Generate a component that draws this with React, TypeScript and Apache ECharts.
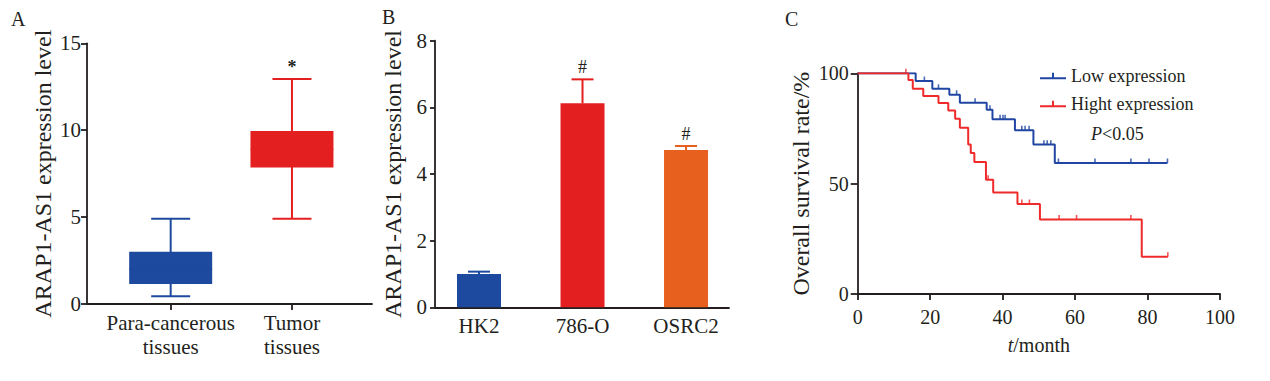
import React, { useEffect, useRef } from 'react';
import * as echarts from 'echarts';

// ---------- Panel A: box plot ----------
const boxCategories = ['Para-cancerous\ntissues', 'Tumor\ntissues'];
const boxMin = [0.45, 4.9];
const boxQ1 = [1.15, 7.85];
const boxMedian = [2.0, 8.9];
const boxQ3 = [3.0, 9.95];
const boxMax = [4.9, 12.95];
const boxMarks = ['', '*'];
const boxColors = ['#1d4a9e', '#e41f1f'];

// ---------- Panel B: bars ----------
const cellLines = ['HK2', '786-O', 'OSRC2'];
const cellMeans = [1.0, 6.12, 4.72];
const cellUpper = [1.07, 6.84, 4.84];
const cellMarks = ['', '#', '#'];
const cellColors = ['#1d4a9e', '#e41f1f', '#e8601e'];

// ---------- Panel C: Kaplan-Meier ----------
const lowEventTimes = [16.0, 20.6, 25.3, 28.2, 35.6, 37.2, 43.4, 48.5, 54.4];
const lowEventSurv = [96.5, 93.0, 90.3, 86.7, 83.5, 79.2, 74.2, 67.7, 59.4];
const lowCensorTimes = [18.4, 22.3, 27.3, 32.4, 36.5, 39.3, 40.1, 40.7, 45.3, 46.2, 47.3, 51.4, 52.3, 53.3, 55.4, 65.5, 75.4, 80.4, 85.5];

const highEventTimes = [14.0, 15.2, 18.1, 22.3, 25.0, 26.9, 28.2, 30.5, 31.2, 32.2, 35.4, 37.4, 44.1, 50.3, 78.4];
const highEventSurv = [97.0, 93.0, 89.7, 86.5, 83.2, 79.4, 75.3, 67.7, 63.9, 59.8, 51.8, 46.0, 40.8, 33.8, 16.9];
const highCensorTimes = [13.3, 36.0, 45.3, 47.4, 55.6, 60.4, 75.4, 85.6];

const seriesNames = ['Low expression', 'Hight expression'];
const kmColors = ['#2045a2', '#ee2a2a'];

const FONT = '"Liberation Serif", "Times New Roman", serif';
const INK = '#231f20';

function survivalAt(times: number[], surv: number[], t: number): number {
  let s = 100;
  for (let i = 0; i < times.length; i++) if (times[i] <= t) s = surv[i];
  return s;
}

function stepPoints(times: number[], surv: number[], end: number): number[][] {
  const pts: number[][] = [[0, 100]];
  let prev = 100;
  for (let i = 0; i < times.length; i++) {
    pts.push([times[i], prev]);
    pts.push([times[i], surv[i]]);
    prev = surv[i];
  }
  pts.push([end, prev]);
  return pts;
}

function censorPoints(times: number[], surv: number[], censor: number[]): number[][] {
  return censor.map((t) => [t, survivalAt(times, surv, t)]);
}

const axisLineStyle = { color: INK, width: 1.8 };
const labelStyle = { color: INK, fontFamily: FONT, fontSize: 20 };

export default function App() {
  const ref = useRef<HTMLDivElement>(null);

  useEffect(() => {
    if (!ref.current) return;
    const chart = echarts.init(ref.current, undefined, { renderer: 'svg' });

    const boxData = boxCategories.map((_, i) => [i, boxMin[i], boxQ1[i], boxMedian[i], boxQ3[i], boxMax[i]]);
    const barData = cellLines.map((_, i) => [i, cellMeans[i]]);
    const errData = cellLines.map((_, i) => [i, cellMeans[i], cellUpper[i]]);

    const lowEnd = lowCensorTimes[lowCensorTimes.length - 1];
    const highEnd = highCensorTimes[highCensorTimes.length - 1];

    const option: any = {
      animation: false,
      grid: [
        { left: 87, top: 43.3, width: 285, height: 260.7 },
        { left: 435, top: 40.7, width: 294, height: 266.6 },
        { left: 857.7, top: 73.3, width: 362.3, height: 220.7 },
      ],
      xAxis: [
        {
          gridIndex: 0, type: 'value', min: -0.69, max: 1.66,
          axisLine: { show: true, onZero: false, lineStyle: axisLineStyle },
          axisTick: { show: true, customValues: [0, 1], length: 6, lineStyle: axisLineStyle },
          axisLabel: {
            customValues: [0, 1], margin: 7, ...labelStyle, fontSize: 21, lineHeight: 24,
            formatter: (v: number) => boxCategories[Math.round(v)] ?? '',
          },
          splitLine: { show: false },
        },
        {
          gridIndex: 1, type: 'value', min: -0.425, max: 2.415,
          axisLine: { show: true, onZero: false, lineStyle: axisLineStyle },
          axisTick: { show: false },
          axisLabel: {
            customValues: [0, 1, 2], margin: 8, ...labelStyle, fontSize: 21,
            formatter: (v: number) => cellLines[Math.round(v)] ?? '',
          },
          splitLine: { show: false },
        },
        {
          gridIndex: 2, type: 'value', min: 0, max: 100, interval: 20,
          axisLine: { show: true, onZero: false, lineStyle: axisLineStyle },
          axisTick: { show: true, length: 6, lineStyle: axisLineStyle },
          axisLabel: { margin: 13, ...labelStyle },
          splitLine: { show: false },
          name: '{i|t}/month', nameLocation: 'middle', nameGap: 41,
          nameTextStyle: {
            color: INK, fontFamily: FONT, fontSize: 20,
            rich: { i: { fontStyle: 'italic', fontFamily: FONT, fontSize: 20, color: INK } },
          },
        },
      ],
      yAxis: [
        {
          gridIndex: 0, type: 'value', min: 0, max: 15, interval: 5,
          axisLine: { show: true, onZero: false, lineStyle: axisLineStyle },
          axisTick: { show: true, length: 6, lineStyle: axisLineStyle },
          axisLabel: { margin: 6, ...labelStyle, fontSize: 21 },
          splitLine: { show: false },
          name: 'ARAP1-AS1 expression level', nameLocation: 'middle', nameGap: 32,
          nameTextStyle: { color: INK, fontFamily: FONT, fontSize: 24 },
        },
        {
          gridIndex: 1, type: 'value', min: 0, max: 8, interval: 2,
          axisLine: { show: true, onZero: false, lineStyle: axisLineStyle },
          axisTick: { show: true, length: 5, lineStyle: axisLineStyle },
          axisLabel: { margin: 8, ...labelStyle, fontSize: 21 },
          splitLine: { show: false },
          name: 'ARAP1-AS1 expression level', nameLocation: 'middle', nameGap: 30,
          nameTextStyle: { color: INK, fontFamily: FONT, fontSize: 24 },
        },
        {
          gridIndex: 2, type: 'value', min: 0, max: 100, interval: 50,
          axisLine: { show: true, onZero: false, lineStyle: axisLineStyle },
          axisTick: { show: true, length: 7, lineStyle: axisLineStyle },
          axisLabel: { margin: 9, ...labelStyle },
          splitLine: { show: false },
          name: 'Overall survival rate/%', nameLocation: 'middle', nameGap: 45,
          nameTextStyle: { color: INK, fontFamily: FONT, fontSize: 24 },
        },
      ],
      legend: {
        data: seriesNames,
        orient: 'vertical',
        left: 1035, top: 61,
        itemWidth: 26, itemHeight: 7, itemGap: 8,
        icon: 'path://M0,4.5h26v2h-26z M12,0h2v4.5h-2z',
        textStyle: { color: INK, fontFamily: FONT, fontSize: 18, lineHeight: 20 },
      },
      graphic: [
        { type: 'text', left: 11, top: 9, style: { text: 'A', font: `20px ${FONT}`, fill: INK } },
        { type: 'text', left: 382, top: 7, style: { text: 'B', font: `20px ${FONT}`, fill: INK } },
        { type: 'text', left: 785, top: 9, style: { text: 'C', font: `20px ${FONT}`, fill: INK } },
        {
          type: 'text', left: 1091, top: 125,
          style: {
            text: '{i|P}<0.05', font: `18px ${FONT}`, fill: INK,
            rich: { i: { fontStyle: 'italic', fontFamily: FONT, fontSize: 18, color: INK } },
          },
        },
      ],
      series: [
        {
          type: 'custom', name: 'box', xAxisIndex: 0, yAxisIndex: 0,
          data: boxData,
          encode: { x: 0, y: [1, 2, 3, 4, 5] },
          renderItem: (params: any, api: any) => {
            const x = api.value(0);
            const pMin = api.coord([x, api.value(1)]);
            const pQ1 = api.coord([x, api.value(2)]);
            const pMed = api.coord([x, api.value(3)]);
            const pQ3 = api.coord([x, api.value(4)]);
            const pMax = api.coord([x, api.value(5)]);
            const color = boxColors[params.dataIndex];
            const bw = 83;
            const cw = 39;
            const cx = pMin[0];
            const st = { stroke: color, lineWidth: 2 };
            return {
              type: 'group',
              children: [
                { type: 'line', shape: { x1: cx, y1: pMin[1], x2: cx, y2: pMax[1] }, style: st },
                { type: 'line', shape: { x1: cx - cw / 2, y1: pMin[1], x2: cx + cw / 2, y2: pMin[1] }, style: st },
                { type: 'line', shape: { x1: cx - cw / 2, y1: pMax[1], x2: cx + cw / 2, y2: pMax[1] }, style: st },
                { type: 'rect', shape: { x: cx - bw / 2, y: pQ3[1], width: bw, height: pQ1[1] - pQ3[1] }, style: { fill: color } },
                { type: 'line', shape: { x1: cx - bw / 2, y1: pMed[1], x2: cx + bw / 2, y2: pMed[1] }, style: { stroke: color, lineWidth: 1 } },
                {
                  type: 'text', x: cx, y: pMax[1] - 3,
                  style: { text: boxMarks[params.dataIndex], font: `bold 18px ${FONT}`, fill: INK, align: 'center', verticalAlign: 'bottom' },
                },
              ],
            };
          },
        },
        {
          type: 'bar', name: 'cells', xAxisIndex: 1, yAxisIndex: 1,
          data: barData, barWidth: 44,
          itemStyle: { color: (p: any) => cellColors[p.dataIndex] },
        },
        {
          type: 'custom', name: 'err', xAxisIndex: 1, yAxisIndex: 1,
          data: errData,
          encode: { x: 0, y: [1, 2] },
          renderItem: (params: any, api: any) => {
            const x = api.value(0);
            const pM = api.coord([x, api.value(1)]);
            const pU = api.coord([x, api.value(2)]);
            const color = cellColors[params.dataIndex];
            const cw = 22;
            const st = { stroke: color, lineWidth: 2 };
            return {
              type: 'group',
              children: [
                { type: 'line', shape: { x1: pM[0], y1: pM[1], x2: pU[0], y2: pU[1] }, style: st },
                { type: 'line', shape: { x1: pU[0] - cw / 2, y1: pU[1], x2: pU[0] + cw / 2, y2: pU[1] }, style: st },
                {
                  type: 'text', x: pU[0], y: pU[1] - 3,
                  style: { text: cellMarks[params.dataIndex], font: `18px ${FONT}`, fill: INK, align: 'center', verticalAlign: 'bottom' },
                },
              ],
            };
          },
        },
        {
          type: 'line', name: seriesNames[0], xAxisIndex: 2, yAxisIndex: 2,
          data: stepPoints(lowEventTimes, lowEventSurv, lowEnd),
          showSymbol: false, lineStyle: { color: kmColors[0], width: 2 }, itemStyle: { color: kmColors[0] },
        },
        {
          type: 'line', name: seriesNames[1], xAxisIndex: 2, yAxisIndex: 2,
          data: stepPoints(highEventTimes, highEventSurv, highEnd),
          showSymbol: false, lineStyle: { color: kmColors[1], width: 2 }, itemStyle: { color: kmColors[1] },
        },
        {
          type: 'scatter', name: 'low-censor', xAxisIndex: 2, yAxisIndex: 2,
          data: censorPoints(lowEventTimes, lowEventSurv, lowCensorTimes),
          symbol: 'rect', symbolSize: [1.6, 4.5], symbolOffset: [0, -2.2],
          itemStyle: { color: kmColors[0] },
        },
        {
          type: 'scatter', name: 'high-censor', xAxisIndex: 2, yAxisIndex: 2,
          data: censorPoints(highEventTimes, highEventSurv, highCensorTimes),
          symbol: 'rect', symbolSize: [1.6, 4.5], symbolOffset: [0, -2.2],
          itemStyle: { color: kmColors[1] },
        },
      ],
    };

    chart.setOption(option);
    return () => chart.dispose();
  }, []);

  return (
    <div
      ref={ref}
      style={{ position: 'absolute', left: 0, top: 0, width: 1270, height: 381, background: '#ffffff' }}
    />
  );
}
